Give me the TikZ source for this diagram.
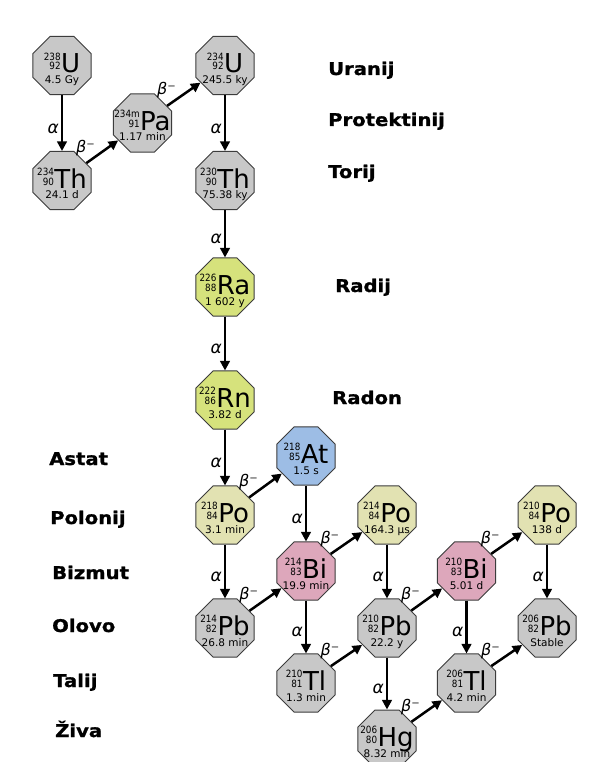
\documentclass[tikz,border=0pt]{standalone}
\usepackage{fontspec}
\setmainfont{DejaVu Sans}
\newfontfamily\condfont[FakeStretch=0.88]{DejaVu Sans}
\newfontfamily\lblfont[FakeStretch=1.12,BoldFeatures={FakeBold=1.2}]{DejaVu Sans}
\usetikzlibrary{shapes.geometric,arrows.meta,calc}
\definecolor{grfill}{HTML}{C8C8C8}
\definecolor{rafill}{HTML}{D6E27C}
\definecolor{pofill}{HTML}{E2E2B2}
\definecolor{atfill}{HTML}{9DBDE5}
\definecolor{bifill}{HTML}{DDA7BB}
\definecolor{edge}{HTML}{3C3C3C}
\tikzset{
  oct/.style={regular polygon, regular polygon sides=8, minimum size=62.8pt, inner sep=0pt, draw=edge, line width=1pt},
  symtxt/.style={font=\fontsize{26}{26}\selectfont, inner sep=0pt, align=center},
  decay/.style={line width=2.5pt, -{Triangle[length=9.5pt,width=9.5pt]}},
  al/.style={pos=0.6, left=1pt, font=\fontsize{17}{17}\selectfont\itshape, inner sep=1pt},
  bl/.style={pos=0.1, anchor=south, yshift=3pt, xshift=-4pt, font=\fontsize{16}{16}\selectfont\itshape, inner sep=1pt},
  elem/.style={font=\lblfont\bfseries\fontsize{17.5}{17.5}\selectfont, anchor=base west, inner sep=0pt},
}
\newcommand{\nuc}[8]{%
  \node[oct, fill=#4] (#1) at (#2,#3) {};
  \node[symtxt, anchor=base] (#1s) at ($(#1.center)+(0,18)$) {\raisebox{3pt}{\condfont\fontsize{10}{8.5}\selectfont\begin{tabular}[b]{@{}r@{}}#5\\#6\end{tabular}}\hspace{0.5pt}#7\\[-15.5pt]{\fontsize{10.5}{10.5}\selectfont #8}};
}
\begin{document}
\begin{tikzpicture}[x=1pt,y=-1pt]
\useasboundingbox[fill=white] (0,0) rectangle (604,762);
% nuclides
\nuc{U238}{62}{65.5}{grfill}{238}{92}{U}{4.5 Gy}
\nuc{Th234}{62}{180.5}{grfill}{234}{90}{Th}{24.1 d}
\nuc{Pa234}{142.5}{123}{grfill}{234m}{91}{Pa}{1.17 min}
\nuc{U234}{225}{65.5}{grfill}{234}{92}{U}{245.5 ky}
\nuc{Th230}{225}{180.5}{grfill}{230}{90}{Th}{75.38 ky}
\nuc{Ra226}{225}{287}{rafill}{226}{88}{Ra}{1 602 y}
\nuc{Rn222}{225}{400}{rafill}{222}{86}{Rn}{3.82 d}
\nuc{Po218}{225}{515}{pofill}{218}{84}{Po}{3.1 min}
\nuc{At218}{306}{456}{atfill}{218}{85}{At}{1.5 s}
\nuc{Pb214}{225}{628}{grfill}{214}{82}{Pb}{26.8 min}
\nuc{Bi214}{306}{571}{bifill}{214}{83}{Bi}{19.9 min}
\nuc{Po214}{387}{515}{pofill}{214}{84}{Po}{164.3 μs}
\nuc{Tl210}{306}{683}{grfill}{210}{81}{Tl}{1.3 min}
\nuc{Pb210}{387}{628}{grfill}{210}{82}{Pb}{22.2 y}
\nuc{Hg206}{387}{739}{grfill}{206}{80}{Hg}{8.32 min}
\nuc{Bi210}{466.5}{571}{bifill}{210}{83}{Bi}{5.01 d}
\nuc{Po210}{547}{515}{pofill}{210}{84}{Po}{138 d}
\nuc{Tl206}{466.5}{683}{grfill}{206}{81}{Tl}{4.2 min}
\nuc{Pb206}{547}{628}{grfill}{206}{82}{Pb}{Stable}
% decays
\draw[decay] (U238) -- node[al]{α} (Th234);
\draw[decay] (Th234) -- node[bl]{β⁻} (Pa234);
\draw[decay] (Pa234) -- node[bl]{β⁻} (U234);
\draw[decay] (U234) -- node[al]{α} (Th230);
\draw[decay] (Th230) -- node[al]{α} (Ra226);
\draw[decay] (Ra226) -- node[al]{α} (Rn222);
\draw[decay] (Rn222) -- node[al]{α} (Po218);
\draw[decay] (Po218) -- node[bl]{β⁻} (At218);
\draw[decay] (Po218) -- node[al]{α} (Pb214);
\draw[decay] (At218) -- node[al]{α} (Bi214);
\draw[decay] (Pb214) -- node[bl]{β⁻} (Bi214);
\draw[decay] (Bi214) -- node[bl]{β⁻} (Po214);
\draw[decay] (Bi214) -- node[al]{α} (Tl210);
\draw[decay] (Po214) -- node[al]{α} (Pb210);
\draw[decay] (Tl210) -- node[bl]{β⁻} (Pb210);
\draw[decay] (Pb210) -- node[bl]{β⁻} (Bi210);
\draw[decay] (Pb210) -- node[al]{α} (Hg206);
\draw[decay] (Hg206) -- node[bl]{β⁻} (Tl206);
\draw[decay] (Bi210) -- node[bl]{β⁻} (Po210);
\draw[decay] (Bi210) -- node[al]{α} (Tl206);
\draw[decay] (Po210) -- node[al]{α} (Pb206);
\draw[decay] (Tl206) -- node[bl]{β⁻} (Pb206);
% element names
\node[elem] (lU) at (328,75) {Uranij};
\node[elem] (lPa) at (328,126) {Protektinij};
\node[elem] (lTh) at (328,178) {Torij};
\node[elem] (lRa) at (335,292) {Radij};
\node[elem] (lRn) at (332,404) {Radon};
\node[elem] (lAt) at (49,465) {Astat};
\node[elem] (lPo) at (50,524) {Polonij};
\node[elem] (lBi) at (52,579) {Bizmut};
\node[elem] (lPb) at (52,632) {Olovo};
\node[elem] (lTl) at (53,687) {Talij};
\node[elem] (lHg) at (55,737) {Živa};
\end{tikzpicture}
\end{document}
